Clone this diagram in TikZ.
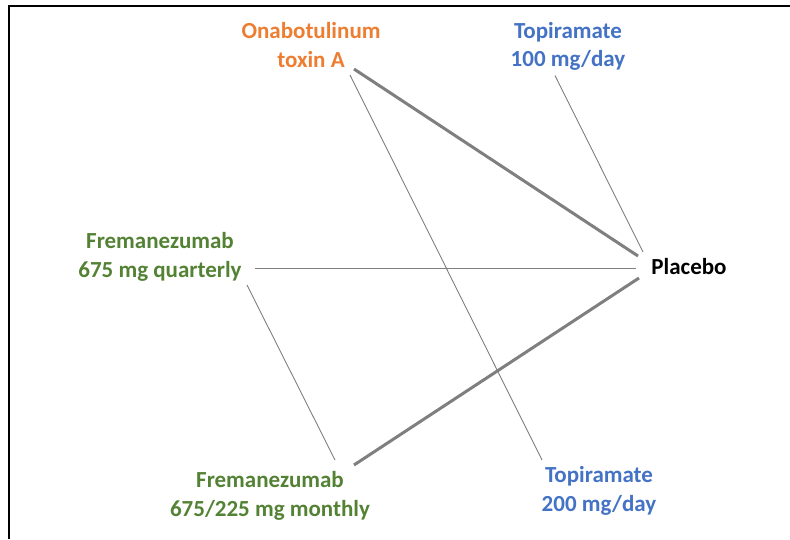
\documentclass[tikz,border=0pt]{standalone}
\usepackage{fontspec}
\setmainfont{Carlito}
\definecolor{onaorange}{HTML}{ED7D31}
\definecolor{topblue}{HTML}{4472C4}
\definecolor{fremgreen}{HTML}{548235}
\definecolor{edgegray}{HTML}{7F7F7F}

\begin{document}
\begin{tikzpicture}[x=1pt,y=-1pt]
                    \useasboundingbox (0,0) rectangle (790,539);
                    \draw[line width=2pt] (8.5,539) -- (8.5,5.5) -- (790,5.5);
                    \begin{scope}[every node/.style={align=center,inner sep=0pt,font=\bfseries\fontsize{23}{28.5}\selectfont}]
                        \node[text=onaorange] (O) at (311,45) {Onabotulinum\\toxin A};
                        \node[text=topblue] (T1) at (568,46.5) {Topiramate\\100 mg/day};
                        \node[text=fremgreen] (FQ) at (160,257) {Fremanezumab\\675 mg quarterly};
                        \node[text=black] (P) at (689,266.5) {Placebo};
                        \node[text=fremgreen] (FM) at (270,496) {Fremanezumab\\675/225 mg monthly};
                        \node[text=topblue] (T2) at (599,491) {Topiramate\\200 mg/day};
                    \end{scope}
                    \begin{scope}[every edge/.style={draw=edgegray,line width=0.9pt}]
                        \draw ([shift={(39,30)}]O.center) edge ([shift={(-57,-31)}]T2.center);
                        \draw ([shift={(-13,29)}]T1.center) edge ([shift={(-46,-14.5)}]P.center);
                        \draw ([shift={(95,11)}]FQ.center) edge ([shift={(-53,1.5)}]P.center);
                        \draw ([shift={(87,28)}]FQ.center) edge ([shift={(65,-36)}]FM.center);
                    \end{scope}
                    \begin{scope}[every edge/.style={draw=edgegray,line width=3pt}]
                        \draw ([shift={(43,24)}]O.center) edge ([shift={(-51,-10.5)}]P.center);
                        \draw ([shift={(84,-31)}]FM.center) edge ([shift={(-50,11.5)}]P.center);
                    \end{scope}
                \end{tikzpicture}
\end{document}
